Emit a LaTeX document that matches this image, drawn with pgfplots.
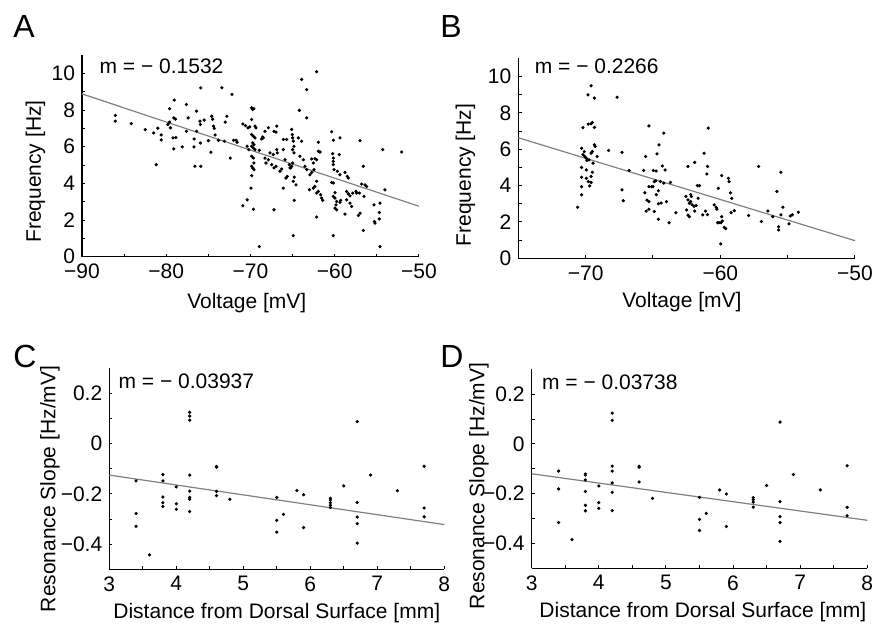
\documentclass[border=0pt]{standalone}
\usepackage{pgfplots}
\pgfplotsset{compat=1.18}
\usepackage{fontspec}
\setmainfont{Liberation Sans}

\pgfplotsset{
  panel/.style={
    scale only axis,
    axis lines=left,
    axis line style={-, line width=0.6pt},
    tick align=inside,
    major tick length=1.6pt,
    every tick/.style={black, line width=0.5pt},
    tick label style={font=\fontsize{10.5}{12}\selectfont},
    label style={font=\fontsize{10.5}{12}\selectfont},
    clip=false,
    anchor=south west,
  },
  dots/.style={only marks, mark=*, mark size=0.6pt, black},
  fitline/.style={no marks, black!50, line width=0.6pt},
}
\tikzset{
  ann/.style={anchor=base west, inner sep=0pt, font=\fontsize{10.5}{12}\selectfont},
  letter/.style={anchor=base west, inner sep=0pt, font=\fontsize{16}{18}\selectfont},
}

\begin{document}
\begin{tikzpicture}
\useasboundingbox (0,0) rectangle (437.5pt,311.5pt);

% ---------------- Panel A ----------------
\begin{axis}[panel,
  at={(41pt,183.15pt)}, width=168.5pt, height=100.85pt,
  xmin=-90, xmax=-50, ymin=0, ymax=11,
  xtick={-90,-85,-80,-75,-70,-65,-60,-55,-50},
  xticklabels={−90,,−80,,−70,,−60,,−50},
  ytick={0,1,2,3,4,5,6,7,8,9,10},
  yticklabels={0,,2,,4,,6,,8,,10},
  xlabel={Voltage [mV]}, ylabel={Frequency [Hz]},
  xlabel style={at={(axis description cs:0.489,-0.23)}, anchor=center},
  ylabel style={at={(axis description cs:-0.138,0.422)}, anchor=center},
]
\addplot[dots] coordinates {
(-86.05,7.70)(-86.05,7.39)(-84.15,7.26)(-82.5,6.93)(-81.5,6.75)(-81.0,7.01)(-81.2,5.02)(-80.6,6.64)(-80.6,6.37)(-79.8,7.21)(-79.6,7.34)(-79.5,7.03)(-79.6,8.07)(-79.05,8.54)(-79.1,7.57)(-78.9,7.50)(-79.2,6.48)(-78.85,6.50)(-79.1,5.88)(-78.1,5.99)(-77.6,8.30)(-77.4,7.57)(-77.6,6.84)(-76.7,6.42)(-76.7,5.99)(-76.4,7.94)(-76.4,6.84)(-76.6,4.93)(-75.9,4.93)(-75.9,9.21)(-75.95,7.21)(-76.0,7.39)(-75.5,7.45)(-75.95,6.20)(-75.0,6.33)(-74.6,7.66)(-74.5,7.50)(-74.7,5.70)(-74.2,6.64)(-74.4,7.12)(-74.3,7.00)(-73.8,6.35)(-73.4,9.21)(-73.0,7.34)(-72.8,7.66)(-73.1,6.30)(-72.2,8.85)(-72.4,5.38)(-72.0,6.35)(-71.7,6.35)(-71.6,6.24)(-70.9,7.24)(-70.9,2.78)(-70.6,7.15)(-70.3,7.03)(-70.4,3.10)(-70.4,6.02)(-70.2,5.84)(-70.1,7.08)
(-69.86,8.12)(-69.74,8.03)(-69.59,8.07)(-69.86,7.48)(-69.47,7.12)(-69.35,7.03)(-69.86,6.66)(-69.66,6.57)(-69.47,6.48)(-69.74,6.21)(-69.59,6.11)(-69.86,6.02)(-69.66,5.93)(-69.47,5.84)(-69.86,5.48)(-69.66,5.38)(-69.59,5.11)(-69.86,4.93)(-69.74,4.84)(-69.59,4.75)(-69.86,4.42)(-69.94,3.74)(-69.66,2.59)(-68.95,0.55)(-68.95,5.80)(-68.56,6.53)(-68.28,6.84)(-67.88,7.03)(-68.68,6.42)(-68.48,6.48)(-68.28,5.38)(-67.88,5.29)(-68.16,5.11)(-67.69,5.66)(-67.29,5.57)(-67.21,6.84)(-66.97,6.79)(-66.89,7.12)(-67.49,5.02)(-67.21,4.84)(-66.97,4.93)(-67.21,2.56)(-66.89,5.84)(-66.82,5.66)(-66.5,4.66)(-66.3,4.78)(-66.1,6.39)(-65.71,6.39)(-66.1,5.84)(-65.9,5.29)(-66.1,3.74)(-65.79,4.29)(-65.63,4.38)(-65.39,5.02)(-65.23,4.84)(-65.11,6.94)(-65.04,6.66)(-65.0,6.48)(-64.92,6.30)(-64.84,6.02)(-65.0,5.84)(-64.84,5.66)(-65.0,5.11)(-65.11,4.93)(-65.31,4.84)(-64.80,4.34)(-64.92,4.11)(-64.6,3.92)(-64.92,1.15)(-64.80,3.07)(-64.2,7.98)(-63.93,9.67)(-63.33,9.11)(-63.33,7.57)(-62.15,10.09)(-64.32,6.48)(-63.93,6.30)(-64.13,5.48)(-63.73,5.29)(-63.53,4.93)(-63.33,4.75)(-62.94,4.47)(-62.74,4.60)(-62.46,4.75)(-62.54,5.11)(-62.74,5.33)(-62.35,5.35)(-62.15,5.29)(-61.95,5.75)(-61.75,5.71)(-61.95,6.24)(-63.02,3.65)(-62.54,3.74)(-62.35,3.83)(-62.15,4.11)(-62.15,3.47)(-61.95,3.56)(-61.67,3.38)(-61.55,3.20)(-62.15,2.16)(-61.43,3.07)(-60.37,6.81)(-60.17,6.35)(-60.25,5.62)(-60.17,5.38)(-60.17,5.20)(-60.17,5.02)(-60.09,4.75)(-59.38,6.48)(-59.46,5.57)(-60.37,4.05)(-60.17,4.02)(-59.69,4.66)(-59.38,4.47)(-59.97,3.50)(-60.17,3.29)(-59.97,3.20)(-59.77,3.01)(-59.85,2.83)(-59.97,2.65)(-59.77,2.56)(-59.38,2.96)(-59.3,3.07)(-60.17,1.15)(-58.78,4.60)(-58.51,4.38)(-58.39,4.29)(-58.59,3.56)(-58.39,3.43)(-58.19,3.32)(-57.87,3.47)(-58.59,3.10)(-58.19,2.92)(-58.0,2.74)(-58.78,2.32)(-57.48,3.56)(-57.4,3.47)(-57.0,6.33)(-56.81,3.96)(-57.08,3.47)(-57.0,2.37)(-57.2,2.25)(-56.61,4.93)(-56.41,3.92)(-56.21,3.83)(-56.53,3.29)(-56.61,1.43)(-55.34,2.83)(-55.22,1.83)(-55.3,1.92)(-54.71,2.41)(-54.71,2.06)(-54.63,2.92)(-54.63,0.55)(-54.31,5.84)(-54.04,3.65)(-52.06,5.71)
};
\addplot[fitline] coordinates {(-90,8.88)(-50,2.75)};
\node[ann] at (axis cs:-87.95,10.0) {m = − 0.1532};
\end{axis}

% ---------------- Panel B ----------------
\begin{axis}[panel,
  at={(259.15pt,182.35pt)}, width=168.35pt, height=100pt,
  xmin=-75, xmax=-50, ymin=0, ymax=11,
  xtick={-75,-70,-65,-60,-55,-50},
  xticklabels={,−70,,−60,,−50},
  ytick={0,1,2,3,4,5,6,7,8,9,10},
  yticklabels={0,,2,,4,,6,,8,,10},
  xlabel={Voltage [mV]}, ylabel={Frequency [Hz]},
  xlabel style={at={(axis description cs:0.486,-0.221)}, anchor=center},
  ylabel style={at={(axis description cs:-0.157,0.4165)}, anchor=center},
]
\addplot[dots] coordinates {
(-69.6,9.49)(-69.83,8.99)(-69.35,8.81)(-67.66,8.86)(-70.2,7.19)(-69.8,7.38)(-69.6,7.40)(-69.5,7.47)(-69.35,7.20)(-70.3,6.05)(-70.1,5.87)(-70.05,5.60)(-70.2,5.70)(-69.95,5.50)(-69.9,5.38)(-69.75,5.41)(-69.35,6.24)(-69.3,6.15)(-69.6,5.78)(-69.5,5.87)(-69.15,5.60)(-69.45,5.23)(-70.3,5.00)(-69.95,4.86)(-70.3,4.46)(-69.95,4.40)(-69.6,4.50)(-69.5,4.73)(-69.8,4.22)(-69.6,4.17)(-69.7,3.98)(-70.3,3.94)(-70.3,3.49)(-70.6,2.81)(-68.3,5.93)(-67.3,5.83)(-66.77,4.83)(-67.3,3.76)(-67.2,3.17)(-65.3,7.28)(-65.55,5.60)(-65.7,4.83)(-65.6,3.61)(-65.3,3.94)(-65.1,3.94)(-65.0,3.94)(-65.45,3.20)(-65.3,3.12)(-65.5,2.60)(-65.3,2.70)(-64.97,4.83)(-64.77,4.80)(-64.9,4.22)(-64.8,4.26)(-64.75,3.50)(-64.6,3.72)(-64.9,2.57)(-64.7,5.74)(-64.55,6.24)(-64.6,3.00)(-64.4,3.04)(-64.6,2.15)(-64.2,6.88)(-64.3,5.08)(-64.1,4.86)(-64.2,4.13)(-64.45,4.22)(-64.0,3.12)(-63.8,1.96)(-63.7,4.17)(-63.3,2.51)(-62.4,5.05)(-61.9,5.27)(-62.55,3.40)(-62.4,3.21)(-62.3,3.03)(-62.5,2.66)(-62.4,2.38)(-62.2,3.50)(-62.15,3.40)(-62.2,3.12)(-62.1,2.95)(-61.95,2.86)(-61.8,2.90)(-62.3,2.29)(-61.9,2.60)(-61.7,4.00)(-61.55,4.00)(-61.65,3.30)(-61.3,2.39)(-61.2,5.78)(-61.0,4.64)(-60.95,5.05)(-60.9,7.16)(-61.1,2.60)(-60.95,2.40)(-60.45,2.94)(-60.3,2.80)(-60.25,2.70)(-60.15,3.85)(-59.9,4.55)(-60.2,1.96)(-60.1,1.96)(-59.95,1.96)(-59.85,2.05)(-59.9,2.29)(-59.7,1.70)(-59.6,1.63)(-59.97,0.79)(-59.4,4.40)(-59.35,4.22)(-59.25,3.60)(-59.15,3.30)(-59.2,2.51)(-58.96,2.62)(-57.9,2.35)(-57.16,5.05)(-56.95,2.02)(-56.47,2.60)(-56.1,2.29)(-55.8,3.67)(-55.67,1.74)(-55.67,1.56)(-55.5,4.73)(-55.5,2.39)(-55.35,2.81)(-54.9,1.89)(-54.8,2.33)(-54.65,2.39)(-54.2,2.53)
};
\addplot[fitline] coordinates {(-75,6.63)(-50,0.97)};
\node[ann] at (axis cs:-73.8,10.15) {m = − 0.2266};
\end{axis}

% ---------------- Panel C ----------------
\begin{axis}[panel,
  at={(54.65pt,26.85pt)}, width=167.5pt, height=100.5pt,
  xmin=3, xmax=8, ymin=-0.5, ymax=0.3,
  xtick={3,3.5,4,4.5,5,5.5,6,6.5,7,7.5,8},
  xticklabels={3,,4,,5,,6,,7,,8},
  ytick={-0.5,-0.4,-0.3,-0.2,-0.1,0,0.1,0.2},
  yticklabels={,−0.4,,−0.2,,0,,0.2},
  xlabel={Distance from Dorsal Surface [mm]}, ylabel={Resonance Slope [Hz/mV]},
  xlabel style={at={(axis description cs:0.50,-0.217)}, anchor=center},
  ylabel style={at={(axis description cs:-0.177,0.40)}, anchor=center},
]
\addplot[dots] coordinates {
(3.4,-0.148)(3.4,-0.278)(3.4,-0.329)(3.6,-0.443)(3.8,-0.123)(3.8,-0.148)(3.8,-0.212)(3.8,-0.235)(3.8,-0.250)(4.0,-0.172)(4.0,-0.239)(4.0,-0.261)(4.2,0.125)(4.2,0.110)(4.2,0.094)(4.2,-0.125)(4.2,-0.189)(4.2,-0.214)(4.2,-0.221)(4.2,-0.270)(4.6,-0.090)(4.6,-0.093)(4.6,-0.190)(4.6,-0.207)(4.8,-0.221)(5.5,-0.214)(5.5,-0.305)(5.5,-0.352)(5.6,-0.281)(5.8,-0.186)(5.9,-0.203)(5.9,-0.334)(6.3,-0.217)(6.3,-0.224)(6.3,-0.235)(6.3,-0.245)(6.3,-0.254)(6.5,-0.168)(6.7,0.088)(6.7,-0.234)(6.7,-0.292)(6.7,-0.318)(6.7,-0.396)(6.9,-0.125)(7.3,-0.187)(7.7,-0.090)(7.7,-0.256)(7.7,-0.291)
};
\addplot[fitline] coordinates {(3,-0.125)(8,-0.322)};
\node[ann] at (axis cs:3.134,0.2215) {m = − 0.03937};
\end{axis}

% ---------------- Panel D ----------------
\begin{axis}[panel,
  at={(265.85pt,27.35pt)}, width=167.8pt, height=99.5pt,
  xmin=3, xmax=8, ymin=-0.5, ymax=0.3,
  xtick={3,3.5,4,4.5,5,5.5,6,6.5,7,7.5,8},
  xticklabels={3,,4,,5,,6,,7,,8},
  ytick={-0.5,-0.4,-0.3,-0.2,-0.1,0,0.1,0.2},
  yticklabels={,−0.4,,−0.2,,0,,0.2},
  xlabel={Distance from Dorsal Surface [mm]}, ylabel={Resonance Slope [Hz/mV]},
  xlabel style={at={(axis description cs:0.51,-0.222)}, anchor=center},
  ylabel style={at={(axis description cs:-0.157,0.414)}, anchor=center},
]
\addplot[dots] coordinates {
(3.4,-0.109)(3.4,-0.181)(3.4,-0.316)(3.6,-0.385)(3.8,-0.121)(3.8,-0.125)(3.8,-0.145)(3.8,-0.191)(3.8,-0.247)(3.8,-0.269)(4.0,-0.169)(4.0,-0.236)(4.0,-0.259)(4.2,0.124)(4.2,0.095)(4.2,-0.089)(4.2,-0.109)(4.2,-0.157)(4.2,-0.195)(4.2,-0.268)(4.6,-0.090)(4.6,-0.094)(4.6,-0.153)(4.8,-0.219)(5.5,-0.215)(5.5,-0.303)(5.5,-0.348)(5.6,-0.279)(5.8,-0.185)(5.9,-0.201)(5.9,-0.332)(6.3,-0.216)(6.3,-0.224)(6.3,-0.234)(6.3,-0.254)(6.5,-0.167)(6.7,0.088)(6.7,-0.232)(6.7,-0.292)(6.7,-0.316)(6.7,-0.392)(6.9,-0.123)(7.3,-0.185)(7.7,-0.088)(7.7,-0.255)(7.7,-0.289)
};
\addplot[fitline] coordinates {(3,-0.12)(8,-0.307)};
\node[ann] at (axis cs:3.149,0.22) {m = − 0.03738};
\end{axis}

% panel letters
\node[letter] at (6.5pt,292.5pt) {A};
\node[letter] at (220pt,292.5pt) {B};
\node[letter] at (6.5pt,128pt) {C};
\node[letter] at (220pt,128pt) {D};
\end{tikzpicture}
\end{document}
